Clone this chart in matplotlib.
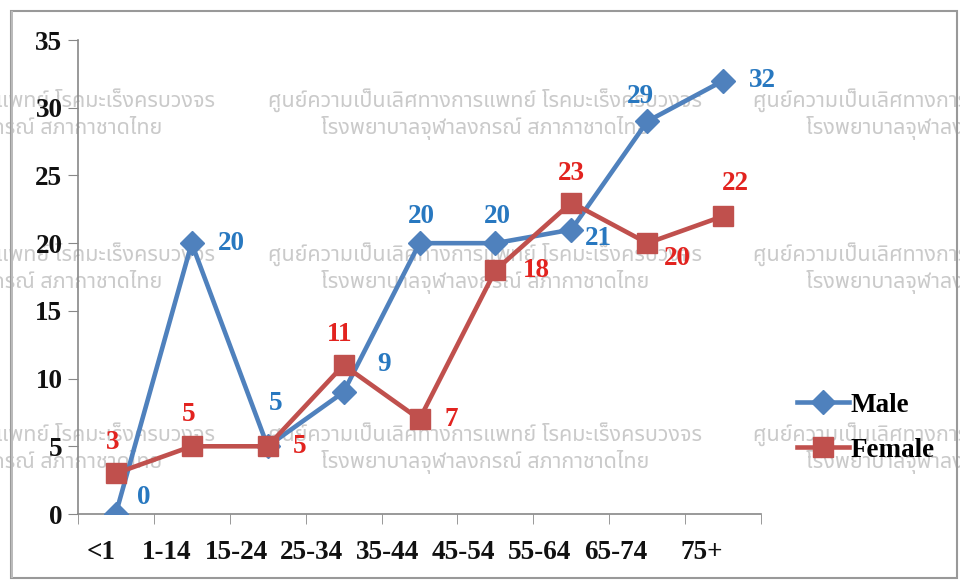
import numpy as np
import matplotlib.pyplot as plt
from matplotlib.patches import Rectangle

# age groups and counts per sex
ageGroups = ['<1', '1-14', '15-24', '25-34', '35-44', '45-54', '55-64', '65-74', '75+']
male = [0, 20, 5, 9, 20, 20, 21, 29, 32]
female = [3, 5, 5, 11, 7, 18, 23, 20, 22]

# where each value label sits, offset in pixels from its point
maleOffsets = [(28, 17), (40, 0), (8, 43), (40, 28), (2, 27), (2, 27), (27, -9), (-7, 25), (39, 0)]
femaleOffsets = [(-3, 31), (-3, 32), (32, 0), (-4, 31), (32, 0), (41, 0), (0, 29), (30, -15), (12, 33)]

serif = 'Liberation Serif'
blueLine, redLine = '#4F81BD', '#C0504D'
blueText, redText = '#2878C0', '#E2231F'
fs = 19.5

fig = plt.figure(figsize=(9.6, 5.81), dpi=100)
ax = fig.add_axes([0.081, 0.1153, 0.712, 0.8158])
ax.patch.set_visible(False)

x = np.arange(len(ageGroups))
ax.plot(x, male, color=blueLine, lw=3.3, marker='D', ms=12, label='Male', zorder=3)
ax.plot(x, female, color=redLine, lw=3.3, marker='s', ms=14, label='Female', zorder=3)

for i in range(len(x)):
    ax.annotate(str(male[i]), (x[i], male[i]), xytext=maleOffsets[i], textcoords='offset pixels',
                ha='center', va='center', color=blueText, fontsize=fs, fontweight='bold',
                family=serif, zorder=4)
    ax.annotate(str(female[i]), (x[i], female[i]), xytext=femaleOffsets[i], textcoords='offset pixels',
                ha='center', va='center', color=redText, fontsize=fs, fontweight='bold',
                family=serif, zorder=4)

ax.set_xlim(-0.5, len(ageGroups) - 0.5)
ax.set_ylim(0, 35)
ax.set_yticks(np.arange(0, 36, 5))
ax.set_xticks(x)
ax.set_xticklabels(ageGroups, ha='right')
ax.set_xticks(np.arange(-0.5, len(ageGroups)), minor=True)
ax.tick_params(axis='x', which='major', length=0, pad=19)
ax.tick_params(axis='x', which='minor', length=7, color='#888888', direction='out')
ax.tick_params(axis='y', length=7, color='#888888', pad=4)
for lab in ax.get_xticklabels() + ax.get_yticklabels():
    lab.set_fontfamily(serif)
    lab.set_fontweight('bold')
    lab.set_fontsize(fs)
    lab.set_color('#111111')

for side in ['top', 'right']:
    ax.spines[side].set_visible(False)
for side in ['left', 'bottom']:
    ax.spines[side].set_color('#888888')
    ax.spines[side].set_linewidth(1.2)

leg = ax.legend(loc='center left', bbox_to_anchor=(1.017, 0.182), frameon=False,
                prop={'family': serif, 'weight': 'bold', 'size': fs},
                handlelength=1.9, labelspacing=0.75, handletextpad=0.05)

# faint hospital watermark repeated behind the chart
wmLine1 = 'ศูนย์ความเป็นเลิศทางการแพทย์ โรคมะเร็งครบวงจร'
wmLine2 = 'โรงพยาบาลจุฬาลงกรณ์ สภากาชาดไทย'
wmFont = ['Noto Sans Thai', 'Loma', 'Garuda', 'Noto Sans', 'DejaVu Sans']
for cy in [114, 268, 448]:
    for cx in [-2, 485, 970]:
        fig.text(cx / 960, 1 - cy / 581, wmLine1 + '\n' + wmLine2, ha='center', va='center',
                 color='#cacaca', fontsize=15.5, family=wmFont, linespacing=1.25, zorder=-1)

# outer frame
fig.patches.append(Rectangle((0.011, 0.006), 0.986, 0.975, transform=fig.transFigure,
                             fill=False, edgecolor='#999999', lw=1.5))
fig.patches.append(Rectangle((0.011, 0.006), 0.003, 0.975, transform=fig.transFigure,
                             color='#bbbbbb', lw=0))

fig.savefig('out.png', dpi=100)
